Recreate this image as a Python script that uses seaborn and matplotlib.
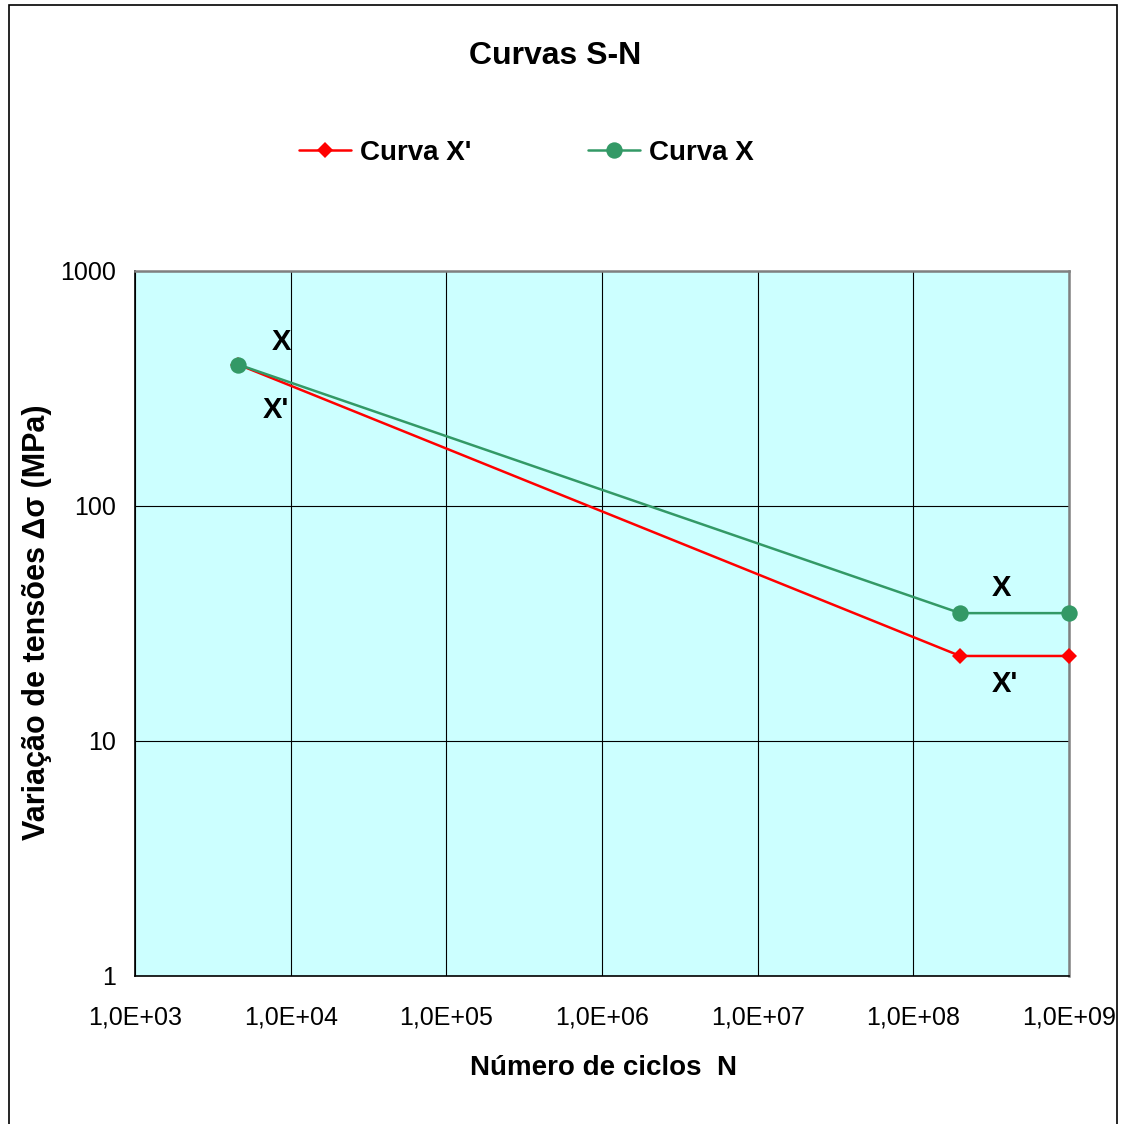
import numpy as np
import matplotlib
matplotlib.use("Agg")
import matplotlib.pyplot as plt
from matplotlib.ticker import FixedLocator, FuncFormatter, NullLocator
from matplotlib.patches import Rectangle
import seaborn as sns

# pontos das curvas S-N
ciclos_xl = [4.6e3, 2.0e8, 1.0e9]
tensao_xl = [400, 23, 23]
ciclos_x = [4.6e3, 2.0e8, 1.0e9]
tensao_x = [400, 35, 35]

x_ticks = [1e3, 1e4, 1e5, 1e6, 1e7, 1e8, 1e9]
y_ticks = [1, 10, 100, 1000]

# rotulos "X" / "X'" junto as curvas
rotulos = ["X", "X'", "X", "X'"]
rot_x = [8.7e3, 8.0e3, 3.7e8, 3.9e8]
rot_y = [500, 257, 44.8, 17.5]

sns.set_style("white")
plt.rcParams['font.family'] = ['Liberation Sans', 'DejaVu Sans']
for k in ['text.color', 'xtick.color', 'ytick.color', 'axes.labelcolor']:
    plt.rcParams[k] = 'black'

fig = plt.figure(figsize=(11.23, 11.24), dpi=100)
ax = fig.add_axes([0.1202, 0.1317, 0.8317, 0.6272])
ax.set_facecolor('#ccffff')

sns.lineplot(x=ciclos_xl, y=tensao_xl, ax=ax, color='#ff0000', marker='D', markersize=8,
             markeredgewidth=0, lw=1.8, label="Curva X'", zorder=3, clip_on=False)
sns.lineplot(x=ciclos_x, y=tensao_x, ax=ax, color='#339966', marker='o', markersize=11.8,
             markeredgewidth=0, lw=1.8, label="Curva X", zorder=4, clip_on=False)

ax.set_xscale('log')
ax.set_yscale('log')
ax.set_xlim(1e3, 1e9)
ax.set_ylim(1, 1000)
ax.xaxis.set_major_locator(FixedLocator(x_ticks))
ax.yaxis.set_major_locator(FixedLocator(y_ticks))
ax.xaxis.set_minor_locator(NullLocator())
ax.yaxis.set_minor_locator(NullLocator())
ax.xaxis.set_major_formatter(FuncFormatter(lambda v, p: "1,0E+%02d" % int(round(np.log10(v)))))
ax.yaxis.set_major_formatter(FuncFormatter(lambda v, p: "%d" % int(round(v))))
ax.tick_params(axis='x', direction='out', length=8, width=1, pad=13, labelsize=18)
ax.tick_params(axis='y', direction='out', length=7, width=1, pad=7, labelsize=18)
ax.grid(True, which='major', color='black', lw=0.8)
ax.set_axisbelow(True)
ax.set_xlabel('')
ax.set_ylabel('')

for s in ['left', 'bottom']:
    ax.spines[s].set_color('black')
    ax.spines[s].set_linewidth(1.2)
for s in ['top', 'right']:
    ax.spines[s].set_color('#808080')
    ax.spines[s].set_linewidth(1.8)

for t, xx, yy in zip(rotulos, rot_x, rot_y):
    ax.text(xx, yy, t, ha='center', va='center', fontsize=21, fontweight='bold', zorder=5)

ax.legend(loc='center', bbox_to_anchor=(0.4689, 0.8638), bbox_transform=fig.transFigure,
          ncol=2, frameon=False, handlelength=1.87, handletextpad=0.32, columnspacing=4.2,
          prop={'size': 20, 'weight': 'bold'})

fig.text(0.4947, 0.9502, 'Curvas S-N', ha='center', va='center', fontsize=23, fontweight='bold')
fig.text(0.537, 0.0495, 'Número de ciclos  N', ha='center', va='center', fontsize=20, fontweight='bold')
fig.text(0.033, 0.4466, 'Variação de tensões Δσ (MPa)', ha='center', va='center', rotation=90,
         fontsize=22, fontweight='bold')

fig.patches.append(Rectangle((0.008, -0.01), 0.9867, 1.0056, transform=fig.transFigure,
                             fill=False, ec='black', lw=1.2))

fig.savefig('out.png', dpi=100)
